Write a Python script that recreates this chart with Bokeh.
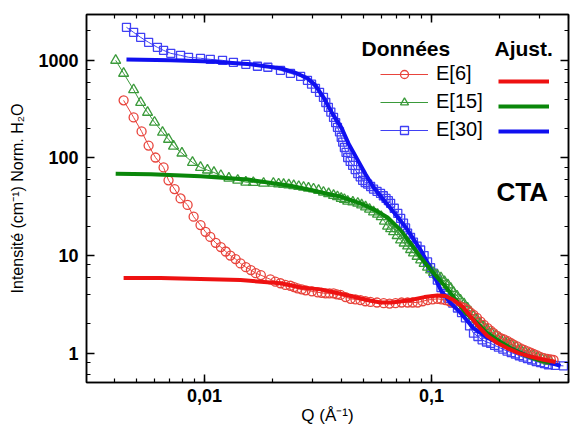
from bokeh.plotting import figure
from bokeh.models import (Range1d, LogAxis, LogTicker, CustomJSTickFormatter,
                          Label, Legend, LegendItem)
from bokeh.embed import file_html
from bokeh.resources import INLINE

FONT = "Liberation Sans"

# ---- data ----
# E[6] data (circles)
q6 = [0.0044, 0.00487, 0.00528, 0.00567, 0.00608, 0.0066, 0.00694, 0.00738, 0.00784, 0.00842,
      0.00895, 0.0096, 0.0101, 0.0106, 0.0112, 0.0118, 0.0124, 0.0130, 0.0137, 0.0144,
      0.0152, 0.0160, 0.0168, 0.0177, 0.0195, 0.0216, 0.0239, 0.0257, 0.0279, 0.0315,
      0.0341, 0.0370, 0.0397, 0.0440, 0.0486, 0.0538, 0.0615, 0.0694, 0.0784, 0.0868,
      0.0960, 0.1063, 0.1152, 0.1250, 0.1343, 0.1440, 0.1531, 0.1644, 0.1765, 0.1875,
      0.2014, 0.2161, 0.2297, 0.2466, 0.2647, 0.2813, 0.3020, 0.3243, 0.3446]
i6 = [389, 260, 187, 134, 101, 80, 59, 48, 38.5, 33,
      25, 20.5, 17.5, 15.5, 13.5, 12.2, 11.0, 10.0, 9.2, 8.3,
      7.6, 7.1, 6.6, 6.3, 5.7, 5.2, 4.9, 4.6, 4.4, 4.2,
      4.1, 4.1, 3.95, 3.6, 3.5, 3.35, 3.25, 3.25, 3.3, 3.3,
      3.5, 3.6, 3.5, 3.3, 3.0, 2.77, 2.47, 2.1, 1.8, 1.6,
      1.42, 1.33, 1.22, 1.12, 1.04, 0.98, 0.91, 0.87, 0.85]
# E[6] extra points read in the dense part
q6b = [0.0205, 0.0227, 0.0248, 0.0268, 0.0297, 0.0328, 0.0355, 0.0383, 0.0418, 0.0462,
       0.0511, 0.0575, 0.0653, 0.0738, 0.0825, 0.0913, 0.1010, 0.1105, 0.1200, 0.1295,
       0.1390, 0.1485, 0.1585, 0.1700, 0.1820, 0.1940, 0.2085, 0.2230, 0.2380, 0.2555,
       0.2730, 0.2915, 0.3130, 0.3350]
i6b = [5.4, 5.0, 4.75, 4.5, 4.3, 4.15, 4.1, 4.0, 3.75, 3.55,
       3.4, 3.3, 3.22, 3.3, 3.3, 3.4, 3.55, 3.55, 3.4, 3.15,
       2.9, 2.6, 2.3, 1.95, 1.7, 1.5, 1.38, 1.27, 1.17, 1.08,
       1.01, 0.95, 0.89, 0.86]

# E[15] data (triangles)
q15 = [0.00406, 0.0044, 0.00487, 0.00523, 0.00561, 0.00602, 0.00653, 0.00694, 0.0073, 0.00795,
       0.00885, 0.0096, 0.0103, 0.0110, 0.0118, 0.0128, 0.0140, 0.0152, 0.0164, 0.0182,
       0.0201, 0.0223, 0.0247, 0.0273, 0.0302, 0.0334, 0.0370, 0.0400, 0.0427, 0.0473,
       0.0512, 0.0555, 0.0600, 0.0640, 0.0680, 0.0730, 0.0784, 0.0832, 0.0895, 0.0960,
       0.1020, 0.1100, 0.1180, 0.1250, 0.1340, 0.1440, 0.1530, 0.1640, 0.1760, 0.1920,
       0.2070, 0.2250, 0.2470, 0.2680, 0.2930, 0.3170, 0.3340]
i15 = [1000, 736, 500, 370, 293, 232, 183, 155, 132, 112,
       90, 80, 75, 71, 66, 62, 59, 56.5, 56, 55,
       55, 53.5, 52, 50, 48, 44.5, 41.3, 38.5, 36, 34.3,
       31.5, 28, 25, 20, 17.5, 14.4, 12.5, 10.6, 9.0, 7.6,
       6.7, 5.9, 5.0, 4.2, 3.5, 2.9, 2.4, 2.0, 1.73, 1.5,
       1.36, 1.22, 1.08, 0.98, 0.91, 0.85, 0.82]
q15b = [0.0212, 0.0235, 0.0260, 0.0287, 0.0318, 0.0352, 0.0385, 0.0413, 0.0450, 0.0492,
        0.0533, 0.0578, 0.0620, 0.0660, 0.0705, 0.0757, 0.0808, 0.0863, 0.0927, 0.0990,
        0.1060, 0.1140, 0.1215, 0.1295, 0.1390, 0.1485, 0.1585, 0.1700, 0.1840, 0.1995,
        0.2160, 0.2360, 0.2575, 0.2805, 0.3050, 0.3255]
i15b = [54, 53, 51, 49, 46.5, 43, 40, 37.5, 35.3, 33,
        29.8, 26.5, 22.5, 18.8, 16, 13.4, 11.5, 9.8, 8.3, 7.1,
        6.3, 5.4, 4.6, 3.85, 3.2, 2.65, 2.2, 1.86, 1.6, 1.43,
        1.29, 1.15, 1.03, 0.94, 0.88, 0.83]

# E[30] data (squares)
q30 = [0.00453, 0.00487, 0.00523, 0.00567, 0.0062, 0.0066, 0.0071, 0.00784, 0.0085, 0.0096,
       0.0106, 0.0120, 0.0134, 0.0152, 0.0171, 0.0190, 0.0216, 0.0239, 0.0265, 0.0284,
       0.0308, 0.0334, 0.0351, 0.0370, 0.0385, 0.0400, 0.0413, 0.0427, 0.0449, 0.0473,
       0.0497, 0.0523, 0.0555, 0.0596, 0.0630, 0.0660, 0.0710, 0.0752, 0.0784, 0.0832,
       0.0895, 0.0960, 0.1020, 0.1100, 0.1180, 0.1300, 0.1410, 0.1530, 0.1670, 0.1820,
       0.1970, 0.2150, 0.2340, 0.2530, 0.2760, 0.3020, 0.3270, 0.3810]
i30 = [2180, 1935, 1720, 1530, 1360, 1265, 1180, 1125, 1075, 1050,
       1025, 1000, 955, 910, 870, 850, 790, 736, 685, 624,
       516, 418, 330, 260, 206, 163, 128, 101, 84, 69,
       59, 54, 48, 43.3, 38.5, 34.3, 27, 21.5, 17, 13.7,
       11.4, 8.6, 6.6, 4.7, 3.65, 2.9, 2.3, 1.6, 1.37, 1.26,
       1.15, 1.05, 0.98, 0.91, 0.85, 0.80, 0.76, 0.74]
q30b = [0.0296, 0.0321, 0.0342, 0.0360, 0.0378, 0.0393, 0.0406, 0.0420, 0.0438, 0.0461,
        0.0485, 0.0510, 0.0539, 0.0575, 0.0613, 0.0645, 0.0685, 0.0731, 0.0768, 0.0808,
        0.0863, 0.0927, 0.0990, 0.1060, 0.1140, 0.1240, 0.1355, 0.1470, 0.1600, 0.1745,
        0.1895, 0.2060, 0.2245, 0.2435, 0.2645, 0.2890, 0.3145, 0.3500]
i30b = [570, 470, 370, 295, 230, 185, 145, 114, 92, 76,
        64, 56, 51, 45.5, 41, 36.5, 30.5, 24, 19.2, 15.3,
        12.5, 10, 7.5, 5.6, 4.1, 3.25, 2.6, 1.9, 1.48, 1.3,
        1.2, 1.1, 1.01, 0.94, 0.88, 0.82, 0.78, 0.75]

# fits (Ajust.)
qf6 = [0.0044, 0.0064, 0.0096, 0.0144, 0.0216, 0.0265, 0.0324, 0.037, 0.044, 0.052,
       0.0596, 0.067, 0.081, 0.093, 0.106, 0.115, 0.125, 0.137, 0.149, 0.160,
       0.176, 0.195, 0.216, 0.242, 0.273, 0.308, 0.352]
f6 = [5.87, 5.87, 5.75, 5.6, 5.2, 4.7, 4.5, 4.2, 3.85, 3.5,
      3.3, 3.3, 3.5, 3.75, 3.9, 3.85, 3.5, 3.0, 2.35, 1.9,
      1.5, 1.27, 1.12, 1.0, 0.92, 0.86, 0.81]

qf15 = [0.00406, 0.0058, 0.0096, 0.0155, 0.0239, 0.0324, 0.040, 0.0486, 0.0565, 0.064,
        0.073, 0.081, 0.0895, 0.102, 0.116, 0.128, 0.141, 0.153, 0.176, 0.201,
        0.23, 0.265, 0.302, 0.334]
f15 = [69, 68, 65, 60, 52, 44.5, 40, 34.3, 29.2, 24.5,
       18.2, 13.3, 9.6, 6.6, 4.7, 3.5, 2.6, 2.2, 1.6, 1.3,
       1.08, 0.93, 0.84, 0.8]

qf30 = [0.00453, 0.0071, 0.0106, 0.016, 0.0216, 0.025, 0.0284, 0.0308, 0.0334, 0.0365,
        0.040, 0.0431, 0.0473, 0.0512, 0.0555, 0.0615, 0.067, 0.0775, 0.0895, 0.099,
        0.110, 0.121, 0.134, 0.153, 0.176, 0.201, 0.23, 0.265, 0.302, 0.37]
f30 = [1020, 1000, 975, 910, 830, 750, 655, 555, 418, 286,
       206, 140, 95, 68, 50, 37, 29.2, 19, 11.4, 7.4,
       4.4, 3.27, 2.6, 1.8, 1.44, 1.25, 1.08, 0.93, 0.85, 0.74]

series_labels = ["E[6]", "E[15]", "E[30]"]
x_tick_fmt = "return tick.toString().replace('.', ',')"


def merged(qa, ia, qb, ib):
    pts = sorted(zip(qa + qb, ia + ib))
    return [a for a, _ in pts], [b for _, b in pts]


Q6, I6 = merged(q6, i6, q6b, i6b)
Q15, I15 = merged(q15, i15, q15b, i15b)
Q30, I30 = merged(q30, i30, q30b, i30b)

RED_D, RED_F = "#e8443c", "#ee1111"
GRN_D, GRN_F = "#3a9a3a", "#0a870a"
BLU_D, BLU_F = "#4040f4", "#1010f0"

FRAME_LEFT, FRAME_TOP, FRAME_BOTTOM = 86, 14, 382  # pixel positions of the frame

p = figure(width=573, height=428, x_axis_type="log", y_axis_type="log",
           x_range=Range1d(0.00302, 0.401), y_range=Range1d(0.5, 2950),
           output_backend="svg", toolbar_location=None,
           min_border_left=FRAME_LEFT, min_border_right=5, min_border_top=FRAME_TOP,
           min_border_bottom=428 - FRAME_BOTTOM)
p.grid.visible = False
p.outline_line_color = "black"
p.outline_line_width = 1.5
p.background_fill_color = "white"
p.border_fill_color = "white"


def style_axis(ax, labels=True, size="18px"):
    ax.axis_line_width = 1.5
    ax.major_tick_line_width = 1.5
    ax.minor_tick_line_width = 1.2
    ax.major_tick_in = 8
    ax.major_tick_out = 0
    ax.minor_tick_in = 4
    ax.minor_tick_out = 0
    if labels:
        ax.major_label_text_font = FONT
        ax.major_label_text_font_style = "bold"
        ax.major_label_text_font_size = size
        ax.major_label_text_color = "black"
        ax.axis_label_text_font = FONT
        ax.axis_label_text_font_style = "normal"
        ax.axis_label_text_color = "black"
    else:
        ax.major_label_text_font_size = "0px"
        ax.major_label_standoff = 0
        ax.formatter = CustomJSTickFormatter(code="return ''")


xa = p.xaxis[0]
xa.ticker = LogTicker(num_minor_ticks=10)
xa.formatter = CustomJSTickFormatter(code=x_tick_fmt)
style_axis(xa, True, "18px")
xa.major_label_standoff = 6
xa.axis_label = "Q (Å⁻¹)"
xa.axis_label_text_font_size = "17px"
xa.axis_label_standoff = 1

ya = p.yaxis[0]
ya.ticker = LogTicker(num_minor_ticks=5)
ya.formatter = CustomJSTickFormatter(code="return tick.toFixed(0)")
style_axis(ya, True, "18px")
ya.major_label_standoff = 8
ya.axis_label = "Intensité (cm⁻¹) Norm. H₂O"
ya.axis_label_text_font_size = "16px"
ya.axis_label_standoff = 9

top = LogAxis(ticker=LogTicker(num_minor_ticks=10))
style_axis(top, False)
p.add_layout(top, "above")
right = LogAxis(ticker=LogTicker(num_minor_ticks=5))
style_axis(right, False)
p.add_layout(right, "right")

# data series
l30 = p.line(Q30, I30, line_color=BLU_D, line_width=1)
s30 = p.scatter(Q30, I30, marker="square", size=8, line_color=BLU_D, line_width=1.3, fill_alpha=0)
l15 = p.line(Q15, I15, line_color=GRN_D, line_width=1)
s15 = p.scatter(Q15, I15, marker="triangle", size=10, line_color=GRN_D, line_width=1.3, fill_alpha=0)
l6 = p.line(Q6, I6, line_color=RED_D, line_width=1)
s6 = p.scatter(Q6, I6, marker="circle", size=9, line_color=RED_D, line_width=1.3, fill_alpha=0)

# fits
g30 = p.line(qf30, f30, line_color=BLU_F, line_width=4)
g15 = p.line(qf15, f15, line_color=GRN_F, line_width=4)
g6 = p.line(qf6, f6, line_color=RED_F, line_width=4)

LEG_BOTTOM = 141  # pixel row of the legend's lower edge
leg_data = Legend(items=[LegendItem(label=series_labels[0], renderers=[l6, s6]),
                         LegendItem(label=series_labels[1], renderers=[l15, s15]),
                         LegendItem(label=series_labels[2], renderers=[l30, s30])],
                  location=(380 - FRAME_LEFT, FRAME_BOTTOM - LEG_BOTTOM),
                  glyph_width=48, glyph_height=20, label_height=20, label_standoff=8,
                  spacing=5, padding=0, margin=0, border_line_color=None,
                  background_fill_alpha=0, label_text_font=FONT,
                  label_text_font_size="20px", label_text_color="black")
leg_fit = Legend(items=[LegendItem(label=" ", renderers=[g6]),
                        LegendItem(label=" ", renderers=[g15]),
                        LegendItem(label=" ", renderers=[g30])],
                 location=(498 - FRAME_LEFT, FRAME_BOTTOM - LEG_BOTTOM),
                 glyph_width=51, glyph_height=20, label_height=20, label_standoff=0,
                 label_width=1, spacing=5, padding=0, margin=0, border_line_color=None,
                 background_fill_alpha=0, label_text_font=FONT, label_text_font_size="20px")
p.add_layout(leg_data)
p.add_layout(leg_fit)


def scr_label(text, x, y, size, bold=False, align="left"):
    p.add_layout(Label(x=x - FRAME_LEFT, y=FRAME_BOTTOM - y, x_units="screen", y_units="screen",
                       text=text, text_font=FONT, text_font_size=size,
                       text_font_style="bold" if bold else "normal",
                       text_align=align, text_baseline="middle", text_color="black"))


scr_label("Données", 361, 48, "21px", bold=True)
scr_label("Ajust.", 494, 48, "21px", bold=True)
scr_label("CTA", 496, 191, "26px", bold=True)

open("out.html", "w").write(file_html(p, INLINE))
